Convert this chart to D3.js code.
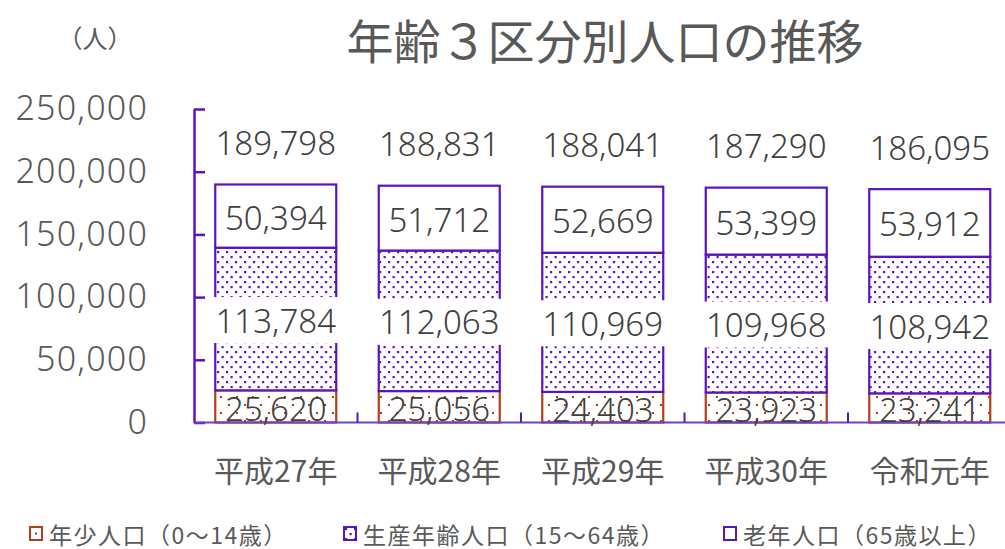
<!DOCTYPE html>
<html>
<head>
<meta charset="utf-8">
<script src="https://cdn.jsdelivr.net/npm/d3@7"></script>
<style>
  body { margin: 0; background: #fff; }
  svg { display: block; }
  text { fill: #595959; }
  .num { font-family: "Noto Sans", "DejaVu Sans", sans-serif; font-weight: 300; }
  .jp { font-family: "Noto Sans CJK JP", sans-serif; }
</style>
</head>
<body>
<div id="chart"></div>
<script>
// values
const categories = ['平成27年', '平成28年', '平成29年', '平成30年', '令和元年'];
const young = [25620, 25056, 24403, 23923, 23241];      // 0-14
const working = [113784, 112063, 110969, 109968, 108942]; // 15-64
const elderly = [50394, 51712, 52669, 53399, 53912];     // 65+
const totals = [189798, 188831, 188041, 187290, 186095];
const yTicks = [0, 50000, 100000, 150000, 200000, 250000];
const legendLabels = ['年少人口（0～14歳）', '生産年齢人口（15～64歳）', '老年人口（65歳以上）'];

const width = 1005, height = 549;
const purple = '#5a14be', brown = '#b0401c';

const svg = d3.select('#chart').append('svg').attr('width', width).attr('height', height);

// dotted fills
const defs = svg.append('defs');
const pBrown = defs.append('pattern').attr('id', 'dotBrown').attr('patternUnits', 'userSpaceOnUse')
    .attr('width', 16).attr('height', 16);
pBrown.append('rect').attr('width', 16).attr('height', 16).attr('fill', '#fff');
pBrown.append('rect').attr('x', 4).attr('y', 4).attr('width', 2).attr('height', 2).attr('fill', brown);
pBrown.append('rect').attr('x', 12).attr('y', 12).attr('width', 2).attr('height', 2).attr('fill', brown);
const pPurple = defs.append('pattern').attr('id', 'dotPurple').attr('patternUnits', 'userSpaceOnUse')
    .attr('width', 9).attr('height', 10);
pPurple.append('rect').attr('width', 9).attr('height', 10).attr('fill', '#fff');
pPurple.append('rect').attr('x', 1).attr('y', 1).attr('width', 2.2).attr('height', 2.2).attr('fill', purple);
pPurple.append('rect').attr('x', 5.5).attr('y', 6).attr('width', 2.2).attr('height', 2.2).attr('fill', purple);

const x = d3.scaleBand()
    .domain(categories)
    .range([194, 1011.5])
    .paddingInner(0.26)
    .paddingOuter(0.13);
const y = d3.scaleLinear()
    .domain([0, 250000])
    .range([422.5, 109]);

const data = categories.map((c, i) => ({
    cat: c, young: young[i], working: working[i], elderly: elderly[i], total: totals[i]
}));
const keys = ['young', 'working', 'elderly'];
const stacked = d3.stack().keys(keys)(data);
const fills = {young: 'url(#dotBrown)', working: 'url(#dotPurple)', elderly: '#fff'};
const strokes = {young: brown, working: purple, elderly: purple};

// bars
svg.selectAll('g.layer')
    .data(stacked)
    .enter().append('g')
    .attr('class', 'layer')
    .selectAll('rect')
    .data(d => d.map(v => ({key: d.key, v})))
    .enter().append('rect')
    .attr('x', d => x(d.v.data.cat))
    .attr('y', d => y(d.v[1]))
    .attr('width', x.bandwidth())
    .attr('height', d => y(d.v[0]) - y(d.v[1]))
    .attr('fill', d => fills[d.key])
    .attr('stroke', d => strokes[d.key])
    .attr('stroke-width', 2.2);

// axes
const yAxis = svg.append('g')
    .attr('transform', 'translate(194,0)')
    .call(d3.axisLeft(y).tickValues(yTicks).tickFormat(d3.format(','))
        .tickSizeInner(-11).tickSizeOuter(0).tickPadding(46));
yAxis.select('.domain').attr('stroke', purple).attr('stroke-width', 2.5);
yAxis.selectAll('.tick line').attr('stroke', purple).attr('stroke-width', 2.5);
yAxis.selectAll('.tick text').attr('class', 'num').attr('font-size', 34)
    .attr('letter-spacing', 1.2).style('fill', '#595959');

const xAxis = svg.append('g')
    .attr('transform', 'translate(0,' + y(0) + ')')
    .call(d3.axisBottom(x).tickSize(0).tickPadding(38));
xAxis.select('.domain').attr('d', 'M194,0H' + width).attr('stroke', '#7040c8').attr('stroke-width', 2);
xAxis.selectAll('.tick text').attr('class', 'jp').attr('font-size', 30).style('fill', '#595959');
// boundary ticks between categories
xAxis.selectAll('line.bound')
    .data(categories.slice(1))
    .enter().append('line')
    .attr('class', 'bound')
    .attr('x1', d => x(d) - x.step() * x.paddingInner() / 2)
    .attr('x2', d => x(d) - x.step() * x.paddingInner() / 2)
    .attr('y1', 0).attr('y2', -10)
    .attr('stroke', purple).attr('stroke-width', 2);

// data labels
const fmt = d3.format(',');
const labels = svg.append('g');
data.forEach(d => {
    const cx = x(d.cat) + x.bandwidth() / 2;
    // young
    labels.append('text').attr('class', 'num').attr('x', cx).attr('y', (y(0) + y(d.young)) / 2 + 2)
        .attr('text-anchor', 'middle').attr('dominant-baseline', 'central')
        .attr('font-size', 33).style('fill', '#404040').text(fmt(d.young));
    // working, on a white box
    const wy = (y(d.young) + y(d.young + d.working)) / 2 + 1;
    labels.append('rect').attr('x', x(d.cat) - 3).attr('y', wy - 23)
        .attr('width', x.bandwidth() + 6).attr('height', 46).attr('fill', '#fff');
    labels.append('text').attr('class', 'num').attr('x', cx).attr('y', wy)
        .attr('text-anchor', 'middle').attr('dominant-baseline', 'central')
        .attr('font-size', 33).style('fill', '#404040').text(fmt(d.working));
    // elderly
    labels.append('text').attr('class', 'num').attr('x', cx)
        .attr('y', (y(d.young + d.working) + y(d.total)) / 2 + 1)
        .attr('text-anchor', 'middle').attr('dominant-baseline', 'central')
        .attr('font-size', 33).style('fill', '#404040').text(fmt(d.elderly));
    // total
    labels.append('text').attr('class', 'num').attr('x', cx).attr('y', y(d.total) - 42)
        .attr('text-anchor', 'middle').attr('dominant-baseline', 'central')
        .attr('font-size', 33).style('fill', '#404040').text(fmt(d.total));
});

// title and unit
svg.append('text').attr('class', 'jp').attr('x', 605).attr('y', 38)
    .attr('text-anchor', 'middle').attr('dominant-baseline', 'central')
    .attr('font-size', 47).text('年齢３区分別人口の推移');
svg.append('text').attr('class', 'jp').attr('x', 95).attr('y', 37)
    .attr('text-anchor', 'middle').attr('dominant-baseline', 'central')
    .attr('font-size', 25).text('（人）');

// legend
const legendX = [30, 344, 724];
const legendFill = ['url(#dotBrown)', 'url(#dotPurple)', '#fff'];
const legendStroke = [brown, purple, purple];
const legend = svg.append('g').selectAll('g')
    .data(legendLabels)
    .enter().append('g')
    .attr('transform', (d, i) => 'translate(' + legendX[i] + ',527)');
legend.append('rect').attr('width', 12).attr('height', 13)
    .attr('fill', (d, i) => i === 0 ? '#fff' : legendFill[i])
    .attr('stroke', (d, i) => legendStroke[i]).attr('stroke-width', 2);
legend.filter((d, i) => i === 0).append('rect')
    .attr('x', 5).attr('y', 5.5).attr('width', 2).attr('height', 2).attr('fill', brown);
legend.append('text').attr('class', 'jp').attr('x', 19).attr('y', 6.5)
    .attr('dominant-baseline', 'central').attr('font-size', 23)
    .attr('letter-spacing', 1.5).text(d => d);
</script>
</body>
</html>
